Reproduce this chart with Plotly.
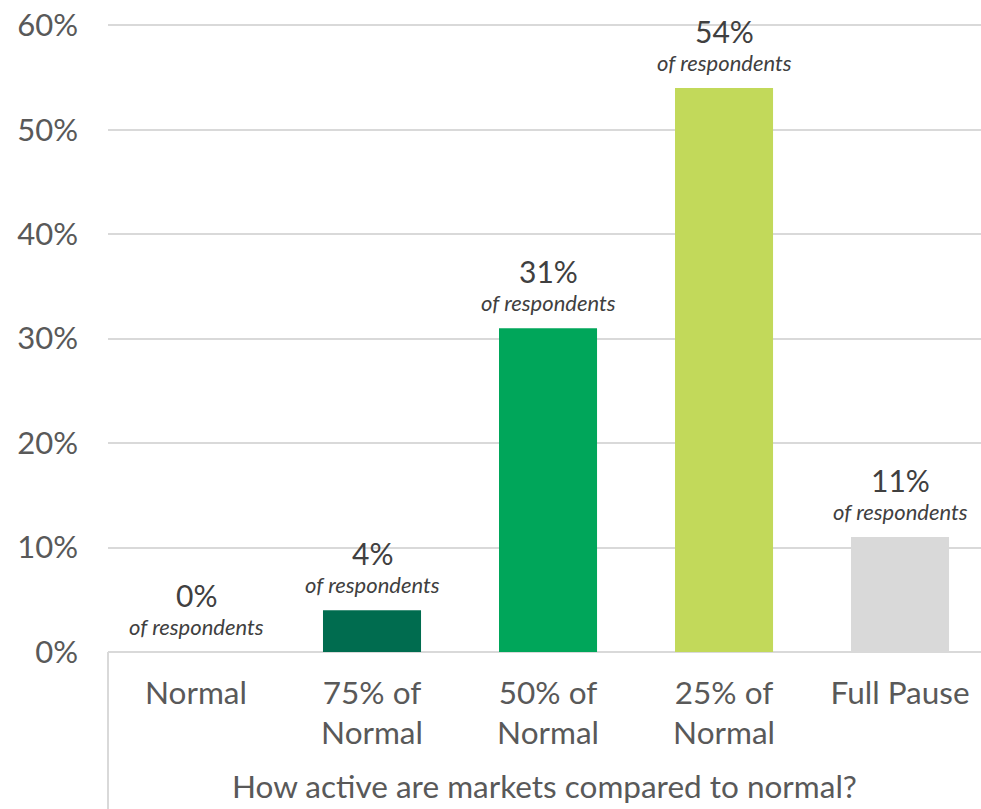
import plotly.graph_objects as go

categories = ["Normal", "75% of<br>Normal", "50% of<br>Normal", "25% of<br>Normal", "Full Pause"]
values = [0, 4, 31, 54, 11]
bar_colors = ["#006C4F", "#006C4F", "#00A65A", "#C2D95A", "#D9D9D9"]
y_ticks = [0, 10, 20, 30, 40, 50, 60]
y_tick_labels = ["0%", "10%", "20%", "30%", "40%", "50%", "60%"]
sub_label = "of respondents"
axis_title = "How active are markets compared to normal?"

FONT = "Lato"
fig = go.Figure()
fig.add_trace(go.Bar(
    x=list(range(len(categories))), y=values,
    marker=dict(color=bar_colors, line=dict(width=0)),
    width=0.557, hoverinfo="skip",
))

annotations = []
for i, v in enumerate(values):
    annotations.append(dict(x=i, y=v, xref="x", yref="y", text=f"{v}%",
                            showarrow=False, yanchor="bottom", yshift=37,
                            font=dict(family=FONT, size=30, color="#404040")))
    annotations.append(dict(x=i, y=v, xref="x", yref="y", text=f"<i>{sub_label}</i>",
                            showarrow=False, yanchor="bottom", yshift=10,
                            font=dict(family=FONT, size=22, color="#404040")))
annotations.append(dict(x=0.5, y=-0.245, xref="paper", yref="paper", text=axis_title,
                        showarrow=False, xanchor="center", yanchor="bottom",
                        font=dict(family=FONT, size=31.5, color="#595959")))

fig.update_layout(
    width=981, height=809,
    margin=dict(l=108, r=0, t=20, b=157, autoexpand=False),
    paper_bgcolor="white", plot_bgcolor="white",
    showlegend=False,
    annotations=annotations,
    shapes=[dict(type="line", xref="paper", yref="paper", x0=0, x1=0, y0=0, y1=-0.3,
                 line=dict(color="#D9D9D9", width=2))],
    xaxis=dict(range=[-0.5, 4.46], tickmode="array",
               tickvals=list(range(len(categories))), ticktext=categories,
               showgrid=False, zeroline=False, showline=False, ticks="",
               ticklabelstandoff=19, ticklabeloverflow="allow", automargin=False,
               tickfont=dict(family=FONT, size=31.5, color="#595959")),
    yaxis=dict(range=[0, 60.5], tickmode="array", tickvals=y_ticks, ticktext=y_tick_labels,
               showgrid=True, gridcolor="#D9D9D9", gridwidth=2,
               zeroline=True, zerolinecolor="#D9D9D9", zerolinewidth=2,
               showline=False, ticks="", ticklabelstandoff=29, ticklabeloverflow="allow",
               automargin=False,
               tickfont=dict(family=FONT, size=31, color="#595959")),
)
fig.write_html("out.html", config={"displayModeBar": False},
               post_script="document.body.style.margin='0';document.body.style.overflow='hidden';")
